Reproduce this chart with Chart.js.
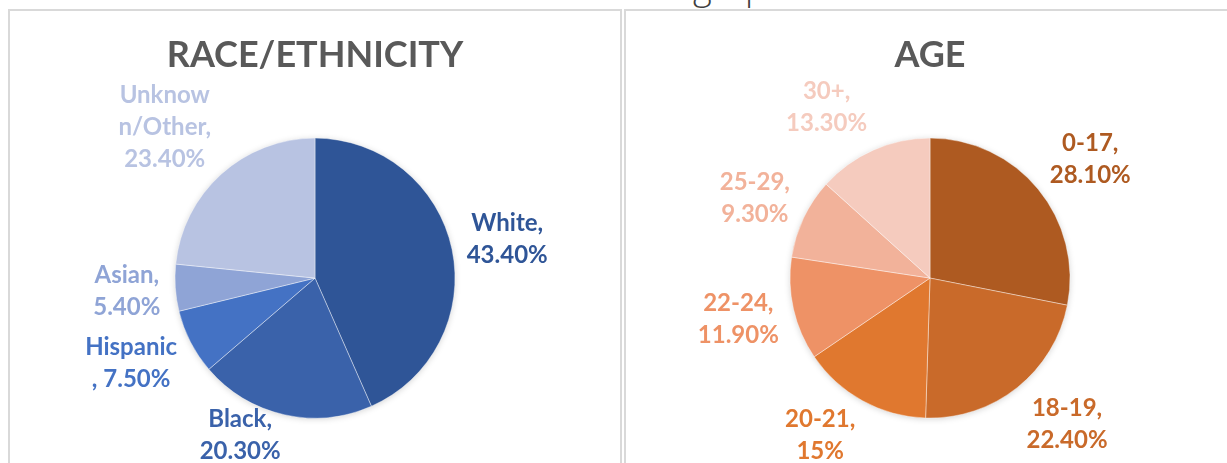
<!DOCTYPE html>
<html>
<head>
<meta charset="utf-8">
<script src="https://cdn.jsdelivr.net/npm/chart.js@4.4.0/dist/chart.umd.min.js"></script>
<style>
  html, body { margin: 0; padding: 0; background: #fff; overflow: hidden; }
  body { width: 1227px; height: 463px; position: relative; }
  .top-title {
    position: absolute; left: 595px; top: -36px;
    font: 300 36px "Open Sans", sans-serif; color: #404040;
    line-height: 44px; white-space: nowrap;
  }
  .panel {
    position: absolute; top: 9px; height: 470px;
    box-sizing: border-box; border: 2px solid #d9d9d9; border-bottom: none;
    background: #fff;
  }
  .panel .box { position: relative; width: 100%; height: 452px; }
</style>
</head>
<body>
<div class="top-title">Demographics</div>
<div class="panel" style="left:8px; width:614px;"><div class="box"><canvas id="raceChart"></canvas></div></div>
<div class="panel" style="left:624px; width:612px;"><div class="box"><canvas id="ageChart"></canvas></div></div>

<script>
// race / ethnicity
const raceNames = ['White', 'Black', 'Hispanic', 'Asian', 'Unknown/Other'];
const raceValues = [43.4, 20.3, 7.5, 5.4, 23.4];
const raceColors = ['#2f5597', '#3a62aa', '#4472c4', '#8fa4d6', '#b8c3e2'];
// how the data labels were wrapped (%v = the percentage)
const raceLabelLines = [['White,', '%v'], ['Black,', '%v'], ['Hispanic', ', %v'], ['Asian,', '%v'], ['Unknow', 'n/Other,', '%v']];

// age
const ageNames = ['0-17', '18-19', '20-21', '22-24', '25-29', '30+'];
const ageValues = [28.1, 22.4, 15, 11.9, 9.3, 13.3];
const ageColors = ['#ae5a21', '#c96a2a', '#e0782f', '#ee9266', '#f2b29a', '#f5cbbe'];
const ageLabelLines = [['0-17,', '%v'], ['18-19,', '%v'], ['20-21,', '%v'], ['22-24,', '%v'], ['25-29,', '%v'], ['30+,', '%v']];

function pct(v) {
    return (v % 1 === 0 ? v : v.toFixed(2)) + '%';
}

// soft shadow behind the pie, like the excel one
const pieShadow = {
    id: 'pieShadow',
    beforeDatasetsDraw(chart) {
        const arc = chart.getDatasetMeta(0).data[0];
        if (!arc) return;
        const p = arc.getProps(['x', 'y', 'outerRadius'], true);
        const ctx = chart.ctx;
        ctx.save();
        ctx.shadowColor = 'rgba(0,0,0,0.22)';
        ctx.shadowBlur = 7;
        ctx.shadowOffsetY = 1;
        ctx.fillStyle = '#fff';
        ctx.beginPath();
        ctx.arc(p.x, p.y, p.outerRadius - 1, 0, Math.PI * 2);
        ctx.fill();
        ctx.restore();
    }
};

// draws the excel style labels just outside each slice
const outsideLabels = {
    id: 'outsideLabels',
    afterDatasetsDraw(chart, args, opts) {
        const ctx = chart.ctx;
        const meta = chart.getDatasetMeta(0);
        const ds = chart.data.datasets[0];
        ctx.save();
        ctx.font = 'bold 24px Lato, sans-serif';
        ctx.textAlign = 'center';
        ctx.textBaseline = 'middle';
        const lh = 32;
        meta.data.forEach((arc, i) => {
            const p = arc.getProps(['x', 'y', 'startAngle', 'endAngle', 'outerRadius'], true);
            const mid = (p.startAngle + p.endAngle) / 2;
            const dx = Math.cos(mid), dy = Math.sin(mid);
            const lines = opts.lines[i].map(s => s.replace('%v', pct(ds.data[i])));
            const w = Math.max(...lines.map(s => ctx.measureText(s).width));
            const h = lines.length * lh;
            const ax = p.x + (p.outerRadius + opts.gap) * dx;
            const ay = p.y + (p.outerRadius + opts.gap) * dy;
            const cx = ax + Math.sign(dx) * w / 2;
            let cy = ay + dy * h / 2;
            // keep the label inside the chart box
            cy = Math.min(cy, chart.height + 4 - h / 2);
            ctx.fillStyle = ds.backgroundColor[i];
            lines.forEach((s, k) => {
                ctx.fillText(s, cx, cy - h / 2 + lh / 2 + k * lh);
            });
        });
        ctx.restore();
    }
};

function makePie(id, title, names, values, colors, lines) {
    const ctx = document.getElementById(id).getContext('2d');
    return new Chart(ctx, {
        type: 'pie',
        data: {
            labels: names,
            datasets: [{
                data: values,
                backgroundColor: colors,
                borderColor: 'rgba(255,255,255,0.5)',
                borderWidth: 0.8,
                radius: 140
            }]
        },
        options: {
            responsive: true,
            maintainAspectRatio: false,
            animation: false,
            layout: { padding: 0 },
            plugins: {
                legend: { display: false },
                tooltip: { enabled: false },
                title: {
                    display: true,
                    text: title,
                    color: '#595959',
                    font: { family: 'Lato', size: 36, weight: 'bold', lineHeight: 1.2 },
                    padding: { top: 23, bottom: 16 }
                },
                outsideLabels: { lines: lines, gap: 15 }
            }
        },
        plugins: [pieShadow, outsideLabels]
    });
}

makePie('raceChart', 'RACE/ETHNICITY', raceNames, raceValues, raceColors, raceLabelLines);
makePie('ageChart', 'AGE', ageNames, ageValues, ageColors, ageLabelLines);
</script>
</body>
</html>
